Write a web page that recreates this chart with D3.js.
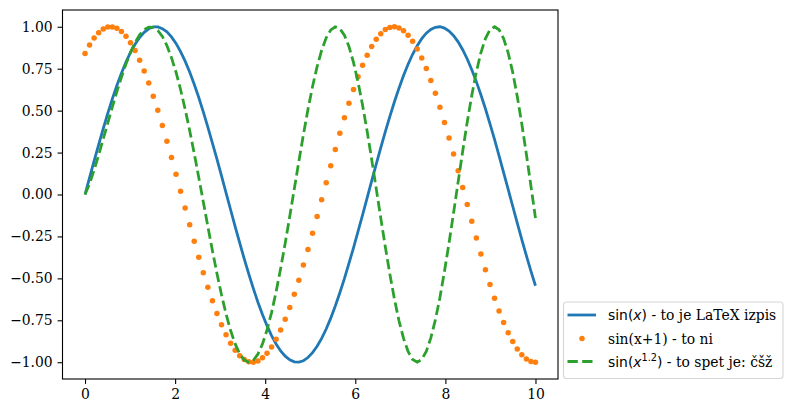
<!DOCTYPE html>
<html>
<head>
    <meta charset="utf-8" />
    <style>
        body {
            margin: 0;
            background: white;
        }
        svg {
            display: block;
        }
        .tick text {
            font-family: "DejaVu Serif", serif;
            font-size: 13.9px;
            fill: #000;
        }
        .tick line, .domain {
            stroke: #000;
        }
    </style>
    <script src="https://cdnjs.cloudflare.com/ajax/libs/d3/7.8.5/d3.min.js"></script>
</head>
<body>
    <div id="graph"></div>
<script>

    // x samples (100 points from 0 to 10)
    var xValues = [0, 0.101, 0.202, 0.303, 0.404, 0.505, 0.606, 0.707, 0.808, 0.909,
        1.010, 1.111, 1.212, 1.313, 1.414, 1.515, 1.616, 1.717, 1.818, 1.919,
        2.020, 2.121, 2.222, 2.323, 2.424, 2.525, 2.626, 2.727, 2.828, 2.929,
        3.030, 3.131, 3.232, 3.333, 3.434, 3.535, 3.636, 3.737, 3.838, 3.939,
        4.040, 4.141, 4.242, 4.343, 4.444, 4.545, 4.646, 4.747, 4.848, 4.949,
        5.051, 5.152, 5.253, 5.354, 5.455, 5.556, 5.657, 5.758, 5.859, 5.960,
        6.061, 6.162, 6.263, 6.364, 6.465, 6.566, 6.667, 6.768, 6.869, 6.970,
        7.071, 7.172, 7.273, 7.374, 7.475, 7.576, 7.677, 7.778, 7.879, 7.980,
        8.081, 8.182, 8.283, 8.384, 8.485, 8.586, 8.687, 8.788, 8.889, 8.990,
        9.091, 9.192, 9.293, 9.394, 9.495, 9.596, 9.697, 9.798, 9.899, 10];

    var sinX = [0.000, 0.101, 0.201, 0.298, 0.393, 0.484, 0.570, 0.650, 0.723, 0.789,
        0.847, 0.896, 0.936, 0.967, 0.988, 0.999, 0.999, 0.989, 0.970, 0.940,
        0.901, 0.852, 0.795, 0.730, 0.657, 0.578, 0.493, 0.402, 0.307, 0.211,
        0.111, 0.010, -0.091, -0.191, -0.289, -0.384, -0.475, -0.561, -0.642, -0.716,
        -0.782, -0.841, -0.891, -0.933, -0.964, -0.986, -0.998, -0.999, -0.991, -0.972,
        -0.943, -0.905, -0.858, -0.802, -0.737, -0.665, -0.586, -0.502, -0.411, -0.318,
        -0.220, -0.121, -0.020, 0.081, 0.181, 0.279, 0.375, 0.466, 0.553, 0.634,
        0.709, 0.777, 0.836, 0.887, 0.929, 0.962, 0.984, 0.997, 1.000, 0.992,
        0.974, 0.947, 0.910, 0.863, 0.808, 0.744, 0.673, 0.595, 0.511, 0.421,
        0.328, 0.231, 0.131, 0.031, -0.070, -0.170, -0.269, -0.365, -0.457, -0.544];

    var sinXplus1 = [0.841, 0.892, 0.933, 0.964, 0.986, 0.998, 0.999, 0.991, 0.972, 0.943,
        0.905, 0.858, 0.801, 0.737, 0.665, 0.586, 0.502, 0.412, 0.318, 0.221,
        0.121, 0.020, -0.081, -0.181, -0.279, -0.374, -0.466, -0.553, -0.634, -0.709,
        -0.776, -0.836, -0.887, -0.929, -0.962, -0.984, -0.997, -1.000, -0.992, -0.974,
        -0.947, -0.909, -0.863, -0.808, -0.744, -0.673, -0.595, -0.511, -0.421, -0.328,
        -0.231, -0.131, -0.031, 0.070, 0.171, 0.269, 0.365, 0.457, 0.544, 0.626,
        0.702, 0.770, 0.830, 0.882, 0.925, 0.959, 0.983, 0.996, 1.000, 0.993,
        0.977, 0.950, 0.914, 0.868, 0.814, 0.751, 0.680, 0.603, 0.520, 0.430,
        0.337, 0.241, 0.142, 0.041, -0.060, -0.160, -0.259, -0.355, -0.448, -0.536,
        -0.618, -0.694, -0.763, -0.824, -0.877, -0.921, -0.956, -0.981, -0.995, -1.000];

    var sinXpow = [0.000, 0.064, 0.146, 0.236, 0.331, 0.426, 0.521, 0.613, 0.699, 0.778,
        0.848, 0.906, 0.952, 0.983, 0.998, 0.997, 0.978, 0.942, 0.888, 0.816,
        0.729, 0.626, 0.509, 0.382, 0.245, 0.102, -0.044, -0.191, -0.334, -0.471,
        -0.598, -0.712, -0.811, -0.891, -0.950, -0.987, -1.000, -0.988, -0.952, -0.892,
        -0.808, -0.704, -0.580, -0.441, -0.290, -0.130, 0.034, 0.198, 0.357, 0.507,
        0.644, 0.762, 0.860, 0.934, 0.981, 1.000, 0.989, 0.950, 0.883, 0.788,
        0.670, 0.532, 0.377, 0.209, 0.035, -0.141, -0.313, -0.476, -0.624, -0.753,
        -0.858, -0.936, -0.984, -1.000, -0.984, -0.935, -0.855, -0.747, -0.614, -0.458,
        -0.289, -0.109, 0.075, 0.258, 0.432, 0.591, 0.731, 0.845, 0.930, 0.982,
        1.000, 0.982, 0.930, 0.844, 0.728, 0.584, 0.420, 0.240, 0.051, -0.141];

    var xTicks = [0, 2, 4, 6, 8, 10];
    var yTicks = [-1, -0.75, -0.5, -0.25, 0, 0.25, 0.5, 0.75, 1];

    var colors = ["#1f77b4", "#ff7f0e", "#2ca02c"];

    var W = 793, H = 413;
    var mLeft = 62.5, mRight = 558, mTop = 10, mBottom = 379;
    var lw = 2.78, dash = "10.3,4.4";

    var svg = d3.select("#graph")
        .append("svg")
        .attr("width", W)
        .attr("height", H);

    var xScale = d3.scaleLinear()
        .domain([-0.5, 10.5])
        .range([mLeft, mRight]);

    var yScale = d3.scaleLinear()
        .domain([-1.1, 1.1])
        .range([mBottom, mTop]);

    var pts = function (ys) {
        return xValues.map(function (x, i) { return [x, ys[i]]; });
    };

    var line = d3.line()
        .x(function (d) { return xScale(d[0]); })
        .y(function (d) { return yScale(d[1]); });

    // blue line
    svg.append("path")
        .datum(pts(sinX))
        .attr("d", line)
        .attr("fill", "none")
        .attr("stroke", colors[0])
        .attr("stroke-width", lw);

    // orange dots
    svg.append("g")
        .selectAll("circle")
        .data(pts(sinXplus1))
        .enter().append("circle")
        .attr("cx", function (d) { return xScale(d[0]); })
        .attr("cy", function (d) { return yScale(d[1]); })
        .attr("r", 2.75)
        .attr("fill", colors[1]);

    // green dashed
    svg.append("path")
        .datum(pts(sinXpow))
        .attr("d", line)
        .attr("fill", "none")
        .attr("stroke", colors[2])
        .attr("stroke-width", lw)
        .attr("stroke-dasharray", dash);

    var xAxis = d3.axisBottom(xScale)
        .tickValues(xTicks)
        .tickSize(4.9)
        .tickPadding(4.9)
        .tickFormat(d3.format("d"));

    var yAxis = d3.axisLeft(yScale)
        .tickValues(yTicks)
        .tickSize(4.9)
        .tickPadding(4.9)
        .tickFormat(d3.format(".2f"));

    svg.append("g")
        .attr("transform", "translate(0," + mBottom + ")")
        .call(xAxis)
        .call(function (g) { g.select(".domain").remove(); });

    svg.append("g")
        .attr("transform", "translate(" + mLeft + ",0)")
        .call(yAxis)
        .call(function (g) { g.select(".domain").remove(); });

    svg.selectAll(".tick line").attr("stroke-width", 1.1);
    svg.selectAll(".tick text").attr("font-family", "DejaVu Serif").attr("font-size", 13.9);

    // frame
    svg.append("rect")
        .attr("x", mLeft)
        .attr("y", mTop)
        .attr("width", mRight - mLeft)
        .attr("height", mBottom - mTop)
        .attr("fill", "none")
        .attr("stroke", "#000")
        .attr("stroke-width", 1.1);

    // legend
    var legend = svg.append("g");
    legend.append("rect")
        .attr("x", 563.5)
        .attr("y", 302)
        .attr("width", 219.5)
        .attr("height", 76.5)
        .attr("rx", 3)
        .attr("fill", "white")
        .attr("fill-opacity", 0.8)
        .attr("stroke", "#d6d6d6")
        .attr("stroke-width", 1.1);

    var rowY = [315, 338.5, 361.5];

    legend.append("line")
        .attr("x1", 567.5).attr("x2", 596)
        .attr("y1", rowY[0]).attr("y2", rowY[0])
        .attr("stroke", colors[0]).attr("stroke-width", lw);

    legend.append("circle")
        .attr("cx", 582).attr("cy", rowY[1])
        .attr("r", 2.75).attr("fill", colors[1]);

    legend.append("line")
        .attr("x1", 567.5).attr("x2", 596)
        .attr("y1", rowY[2]).attr("y2", rowY[2])
        .attr("stroke", colors[2]).attr("stroke-width", lw)
        .attr("stroke-dasharray", dash);

    var sans = "DejaVu Sans", serif = "DejaVu Serif";

    var t1 = legend.append("text")
        .attr("x", 608).attr("y", rowY[0] + 5)
        .attr("font-size", 13.9).attr("fill", "#000");
    t1.append("tspan").attr("font-family", sans).text("sin(");
    t1.append("tspan").attr("font-family", sans).attr("font-style", "italic").text("x");
    t1.append("tspan").attr("font-family", sans).text(")");
    t1.append("tspan").attr("font-family", serif).text(" - to je LaTeX izpis");

    legend.append("text")
        .attr("x", 608).attr("y", rowY[1] + 5)
        .attr("font-size", 13.9).attr("fill", "#000")
        .attr("font-family", serif)
        .text("sin(x+1) - to ni");

    var t3 = legend.append("text")
        .attr("x", 608).attr("y", rowY[2] + 5)
        .attr("font-size", 13.9).attr("fill", "#000");
    t3.append("tspan").attr("font-family", sans).text("sin(");
    t3.append("tspan").attr("font-family", sans).attr("font-style", "italic").text("x");
    t3.append("tspan").attr("font-family", sans).attr("font-size", 9.7).attr("dy", -5.5).text("1.2");
    t3.append("tspan").attr("font-family", sans).attr("dy", 5.5).text(")");
    t3.append("tspan").attr("font-family", serif).text(" - to spet je: čšž");

</script>
</body>
</html>
